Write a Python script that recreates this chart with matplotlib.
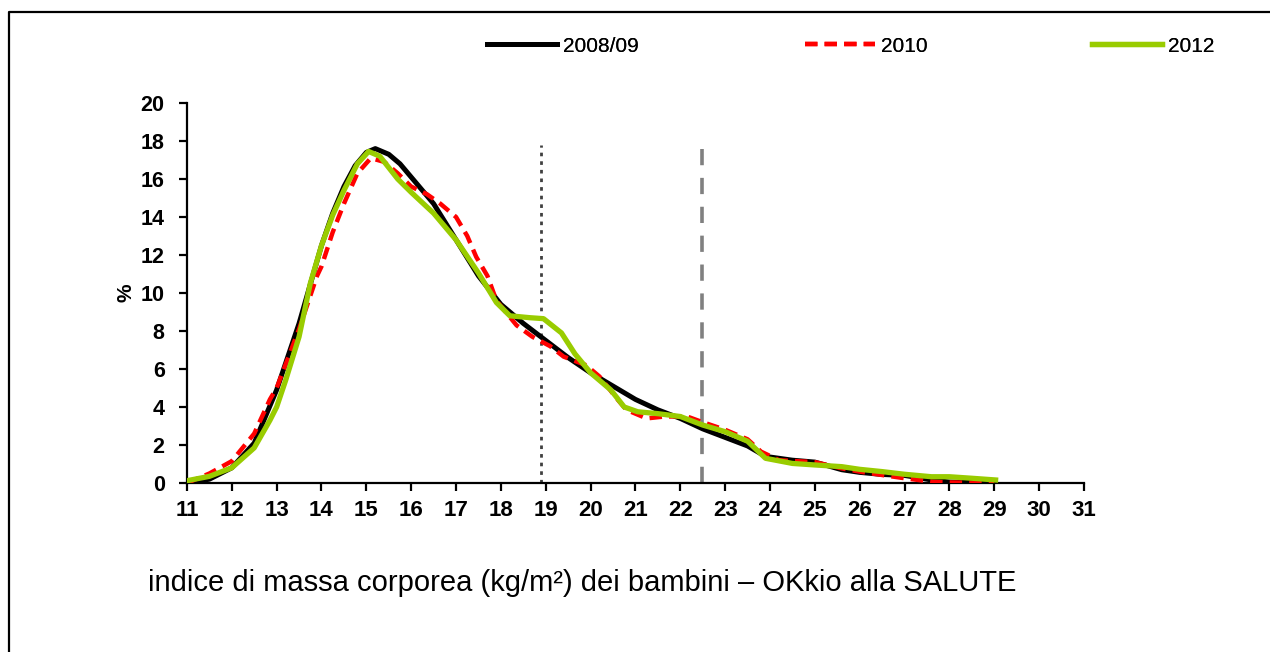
import matplotlib
matplotlib.use("Agg")
import matplotlib.pyplot as plt
from matplotlib.lines import Line2D

plt.rcParams['font.family'] = ['Liberation Sans', 'DejaVu Sans']

# BMI distribution curves (% of children per BMI value)
x_0809 = [11.0, 11.5, 12.0, 12.5, 13.0, 13.5, 14.0, 14.25, 14.5, 14.75, 15.0, 15.2, 15.5, 15.75, 16.0,
          16.5, 17.0, 17.5, 18.0, 18.5, 19.0, 19.5, 20.0, 20.5, 21.0, 21.5, 22.0,
          22.5, 23.0, 23.5, 23.9, 24.5, 25.0, 25.6, 26.0, 26.5, 27.0, 27.6, 28.0, 29.0]
y_0809 = [0.0, 0.2, 0.8, 2.1, 4.9, 8.4, 12.5, 14.2, 15.6, 16.7, 17.4, 17.6, 17.3, 16.8, 16.1,
          14.7, 12.8, 10.9, 9.4, 8.4, 7.5, 6.6, 5.8, 5.1, 4.4, 3.85, 3.4,
          2.85, 2.4, 1.95, 1.4, 1.2, 1.1, 0.7, 0.56, 0.45, 0.4, 0.16, 0.05, 0.0]

x_2010 = [11.0, 11.5, 12.0, 12.5, 12.85, 13.0, 13.5, 13.9, 14.0, 14.25, 14.5, 14.8, 15.1,
          15.4, 15.7, 16.0, 16.35, 16.65, 17.0, 17.25, 17.45, 17.7, 17.9, 18.35, 18.7,
          19.1, 19.4, 19.9, 20.2, 20.6, 20.8, 21.25, 21.65, 22.15, 22.5, 23.0, 23.5,
          23.8, 24.2, 25.0, 25.6, 26.0, 26.5, 27.0, 27.6, 28.0, 29.0]
y_2010 = [0.0, 0.5, 1.15, 2.6, 4.4, 5.0, 8.1, 10.9, 11.4, 13.2, 14.7, 16.3, 17.1,
          16.9, 16.3, 15.6, 15.2, 14.7, 14.0, 13.0, 11.9, 10.9, 9.6, 8.3, 7.7,
          7.2, 6.65, 6.2, 5.6, 4.4, 3.85, 3.4, 3.5, 3.5, 3.2, 2.8, 2.3,
          1.65, 1.2, 1.1, 0.77, 0.6, 0.42, 0.25, 0.07, 0.03, 0.0]

x_2012 = [11.0, 11.5, 12.0, 12.5, 12.85, 13.0, 13.2, 13.5, 13.75, 14.0, 14.25, 14.5, 14.8,
          15.05, 15.3, 15.5, 15.7, 16.0, 16.5, 17.0, 17.5, 17.9, 18.2, 18.65, 18.95, 19.35,
          19.65, 20.0, 20.45, 20.75, 21.05, 21.5, 22.0, 22.5, 23.0, 23.5, 23.9, 24.5,
          25.0, 25.6, 26.0, 26.5, 27.0, 27.6, 28.0, 28.5, 29.03]
y_2012 = [0.12, 0.35, 0.8, 1.85, 3.3, 4.0, 5.4, 7.7, 10.5, 12.5, 14.1, 15.4, 16.8,
          17.45, 17.2, 16.6, 16.0, 15.3, 14.2, 12.8, 11.05, 9.5, 8.8, 8.7, 8.65, 7.9,
          6.8, 5.8, 4.9, 4.0, 3.75, 3.65, 3.5, 3.05, 2.7, 2.2, 1.3, 1.03,
          0.95, 0.86, 0.72, 0.6, 0.46, 0.33, 0.33, 0.25, 0.16]

# cut-off reference lines (BMI value, height)
cut_over = 18.9
cut_over_top = 17.8
cut_obese = 22.48
cut_obese_top = 17.6

x_ticks = list(range(11, 32))
y_ticks = list(range(0, 21, 2))

fig = plt.figure(figsize=(12.7, 6.52), dpi=100)
ax = fig.add_axes([0.1472, 0.2592, 0.7063, 0.5828])

ax.plot(x_0809, y_0809, color='black', lw=3.6, solid_joinstyle='round', label='2008/09', zorder=3)
ax.plot(x_2010, y_2010, color='#FF0000', lw=3.2, dashes=(2.8, 1.6), label='2010', zorder=4)
ax.plot(x_2012, y_2012, color='#99CC00', lw=3.8, solid_joinstyle='round', label='2012', zorder=5)

ax.plot([cut_over, cut_over], [0, cut_over_top], color='#404040', lw=2.0, dashes=(1.3, 1.8), zorder=2)
ax.plot([cut_obese, cut_obese], [0, cut_obese_top], color='#808080', lw=2.6, dashes=(4.5, 3.5), zorder=2)

ax.set_xlim(11, 31)
ax.set_ylim(0, 20)
ax.set_xticks(x_ticks)
ax.set_yticks(y_ticks)
for s in ['top', 'right']:
    ax.spines[s].set_visible(False)
for s in ['left', 'bottom']:
    ax.spines[s].set_linewidth(1.6)
ax.tick_params(direction='out', length=6, width=1.6)
ax.tick_params(axis='x', pad=6)
ax.tick_params(axis='y', pad=10)
for lab in ax.get_xticklabels():
    lab.set_fontsize(16)
    lab.set_fontweight('bold')
for lab in ax.get_yticklabels():
    lab.set_fontsize(15.5)
    lab.set_fontweight('bold')
ax.set_ylabel('%', fontsize=15, fontweight='bold', labelpad=4)

# legend entries spread across the top, as in the original
handles, labels = ax.get_legend_handles_labels()
legend_pos = [0.3835, 0.6339, 0.8598]
for h, l, xp in zip(handles, labels, legend_pos):
    leg = fig.legend([h], [l], loc='center left', bbox_to_anchor=(xp, 0.9294),
                     frameon=False, fontsize=15, handlelength=3.35, handletextpad=0.3,
                     borderpad=0, borderaxespad=0)
    fig.add_artist(leg)

fig.text(148 / 1270, 1 - 583 / 652,
         'indice di massa corporea (kg/m²) dei bambini – OKkio alla SALUTE',
         ha='left', va='center', fontsize=21)

# outer frame (left and top edges visible)
fig.add_artist(Line2D([9 / 1270, 9 / 1270, 1.0], [0.0, 1 - 11.5 / 652, 1 - 11.5 / 652],
                      transform=fig.transFigure, color='black', lw=1.6))

fig.savefig('out.png', dpi=100)
